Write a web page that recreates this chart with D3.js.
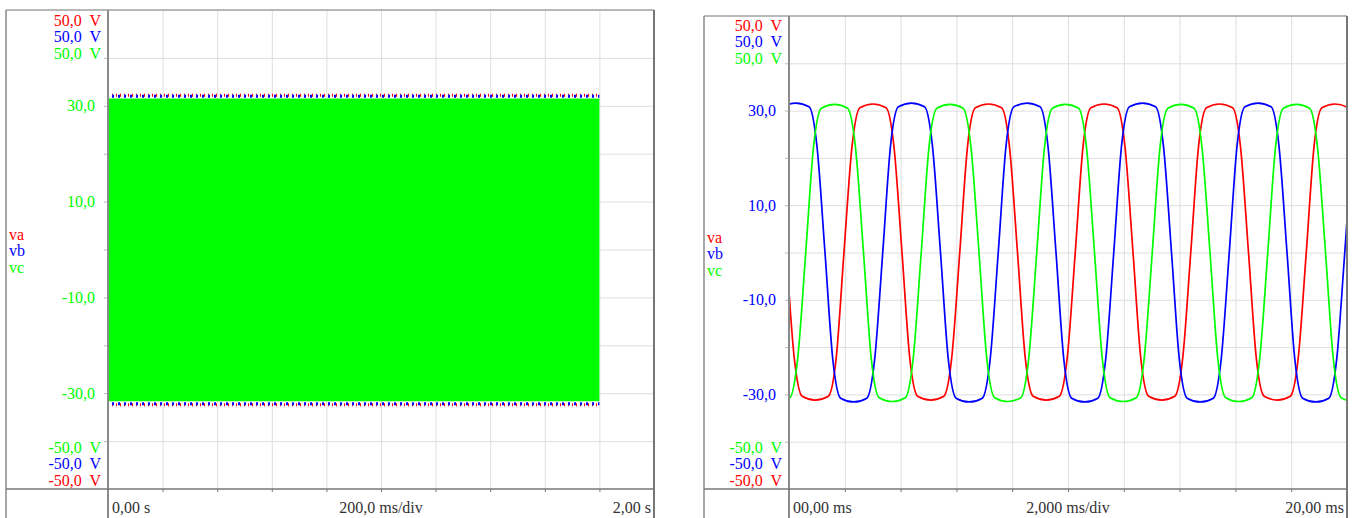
<!DOCTYPE html>
<html>
<head>
<meta charset="utf-8">
<script src="https://cdn.jsdelivr.net/npm/d3@7/dist/d3.min.js"></script>
<style>
  body { margin: 0; background: #fff; }
  svg text { font-family: "Liberation Serif", "DejaVu Serif", "Times New Roman", serif; font-size: 16px; white-space: pre; }
</style>
</head>
<body>
<svg id="scope" width="1352" height="518" font-family="Liberation Serif, DejaVu Serif, serif"></svg>
<script>
// --- data ---
const seriesNames = ['va', 'vb', 'vc'];
const seriesColors = ['#ff0000', '#0000ff', '#00ff00'];

const yDomain = [-50, 50];
const yGridValues = [-40, -30, -20, -10, 0, 10, 20, 30, 40];
const yTickLabels = [30, 10, -10, -30];
const topLimitLabels = ['50,0  V', '50,0  V', '50,0  V'];
const bottomLimitLabels = ['-50,0  V', '-50,0  V', '-50,0  V'];

// overview (left): 0..2 s, envelope of each phase (s, max V, min V)
const overviewXLabels = ['0,00 s', '200,0 ms/div', '2,00 s'];
const overviewTimes = [0, 1.8];
const vaEnvHigh = [32.2, 32.2], vaEnvLow = [-32.4, -32.4];
const vbEnvHigh = [32.0, 32.0], vbEnvLow = [-32.2, -32.2];
const vcEnvHigh = [31.5, 31.5], vcEnvLow = [-31.7, -31.7];

// zoom (right): 0..20 ms, [ms, V]
const detailXLabels = ['00,00 ms', '2,000 ms/div', '20,00 ms'];
const vaPoints = [
  [-1.88, 22.5], [-1.60, 30.6], [-1.13, 31.4], [-0.66, 30.6], [-0.38, 22.5], [-0.10, 0],
  [0.19, -22.4], [0.47, -30.4], [0.94, -31.2], [1.41, -30.4], [1.69, -22.4], [1.97, 0],
  [2.26, 22.5], [2.54, 30.6], [3.01, 31.4], [3.48, 30.6], [3.76, 22.5], [4.05, 0],
  [4.33, -22.4], [4.61, -30.4], [5.08, -31.2], [5.55, -30.4], [5.83, -22.4], [6.12, 0],
  [6.40, 22.5], [6.68, 30.6], [7.15, 31.4], [7.62, 30.6], [7.90, 22.5], [8.19, 0],
  [8.47, -22.4], [8.75, -30.4], [9.22, -31.2], [9.69, -30.4], [9.97, -22.4], [10.26, 0],
  [10.54, 22.5], [10.82, 30.6], [11.29, 31.4], [11.76, 30.6], [12.04, 22.5], [12.33, 0],
  [12.61, -22.4], [12.89, -30.4], [13.36, -31.2], [13.83, -30.4], [14.11, -22.4], [14.40, 0],
  [14.68, 22.5], [14.96, 30.6], [15.43, 31.4], [15.90, 30.6], [16.18, 22.5], [16.47, 0],
  [16.75, -22.4], [17.03, -30.4], [17.50, -31.2], [17.97, -30.4], [18.25, -22.4], [18.54, 0],
  [18.82, 22.5], [19.10, 30.6], [19.57, 31.4], [20.04, 30.6], [20.32, 22.5], [20.61, 0],
  [20.89, -22.4], [21.17, -30.4], [21.64, -31.2]
];
const vbPoints = [
  [-2.57, -22.6], [-2.29, -30.8], [-1.82, -31.6], [-1.35, -30.8], [-1.07, -22.6], [-0.79, 0],
  [-0.50, 22.6], [-0.22, 30.8], [0.25, 31.6], [0.72, 30.8], [1.00, 22.6], [1.29, 0],
  [1.57, -22.6], [1.85, -30.8], [2.32, -31.6], [2.79, -30.8], [3.07, -22.6], [3.36, 0],
  [3.64, 22.6], [3.92, 30.8], [4.39, 31.6], [4.86, 30.8], [5.14, 22.6], [5.43, 0],
  [5.71, -22.6], [5.99, -30.8], [6.46, -31.6], [6.93, -30.8], [7.21, -22.6], [7.50, 0],
  [7.78, 22.6], [8.06, 30.8], [8.53, 31.6], [9.00, 30.8], [9.28, 22.6], [9.57, 0],
  [9.85, -22.6], [10.13, -30.8], [10.60, -31.6], [11.07, -30.8], [11.35, -22.6], [11.64, 0],
  [11.92, 22.6], [12.20, 30.8], [12.67, 31.6], [13.14, 30.8], [13.42, 22.6], [13.71, 0],
  [13.99, -22.6], [14.27, -30.8], [14.74, -31.6], [15.21, -30.8], [15.49, -22.6], [15.78, 0],
  [16.06, 22.6], [16.34, 30.8], [16.81, 31.6], [17.28, 30.8], [17.56, 22.6], [17.85, 0],
  [18.13, -22.6], [18.41, -30.8], [18.88, -31.6], [19.35, -30.8], [19.63, -22.6], [19.92, 0],
  [20.20, 22.6], [20.48, 30.8], [20.95, 31.6]
];
const vcPoints = [
  [-3.26, 22.4], [-2.98, 30.5], [-2.51, 31.3], [-2.04, 30.5], [-1.76, 22.4], [-1.48, 0],
  [-1.19, -22.5], [-0.91, -30.7], [-0.44, -31.5], [0.03, -30.7], [0.31, -22.5], [0.60, 0],
  [0.88, 22.4], [1.16, 30.5], [1.63, 31.3], [2.10, 30.5], [2.38, 22.4], [2.67, 0],
  [2.95, -22.5], [3.23, -30.7], [3.70, -31.5], [4.17, -30.7], [4.45, -22.5], [4.74, 0],
  [5.02, 22.4], [5.30, 30.5], [5.77, 31.3], [6.24, 30.5], [6.52, 22.4], [6.81, 0],
  [7.09, -22.5], [7.37, -30.7], [7.84, -31.5], [8.31, -30.7], [8.59, -22.5], [8.88, 0],
  [9.16, 22.4], [9.44, 30.5], [9.91, 31.3], [10.38, 30.5], [10.66, 22.4], [10.95, 0],
  [11.23, -22.5], [11.51, -30.7], [11.98, -31.5], [12.45, -30.7], [12.73, -22.5], [13.02, 0],
  [13.30, 22.4], [13.58, 30.5], [14.05, 31.3], [14.52, 30.5], [14.80, 22.4], [15.09, 0],
  [15.37, -22.5], [15.65, -30.7], [16.12, -31.5], [16.59, -30.7], [16.87, -22.5], [17.16, 0],
  [17.44, 22.4], [17.72, 30.5], [18.19, 31.3], [18.66, 30.5], [18.94, 22.4], [19.23, 0],
  [19.51, -22.5], [19.79, -30.7], [20.26, -31.5], [20.73, -30.7], [21.01, -22.5]
];

// --- layout ---
const svg = d3.select('#scope');
const axisBottomY = 489;
const serif = '"Liberation Serif", "DejaVu Serif", "Times New Roman", serif';
const fmt = d3.formatLocale({decimal: ',', thousands: '.', grouping: [3], currency: ['', ''], minus: '-'}).format('.1f');

function label(g, x, y, txt, color, anchor) {
  return g.append('text')
    .attr('x', x).attr('y', y)
    .attr('text-anchor', anchor || 'start')
    .attr('fill', color)
    .style('font-family', serif)
    .style('font-size', '16px')
    .text(txt);
}

function drawPanel(p) {
  const x = d3.scaleLinear().domain(p.xDomain).range([p.left, p.right]);
  const y = d3.scaleLinear().domain(yDomain).range([axisBottomY, p.top]);
  const g = svg.append('g');

  // grid
  g.append('g')
    .attr('transform', `translate(${p.left},0)`)
    .call(d3.axisLeft(y).tickValues(yGridValues).tickSize(-(p.right - p.left)).tickFormat(''))
    .call(a => a.select('.domain').remove())
    .call(a => a.selectAll('line').attr('stroke', '#dedede'));
  g.append('g')
    .attr('transform', `translate(0,${p.top})`)
    .call(d3.axisBottom(x).ticks(10).tickSize(axisBottomY - p.top).tickFormat(''))
    .call(a => a.select('.domain').remove())
    .call(a => a.selectAll('line').attr('stroke', '#dedede'));

  // y ticks + labels
  g.append('g')
    .attr('transform', `translate(${p.left},0)`)
    .call(d3.axisLeft(y).tickValues(yGridValues).tickSize(4).tickPadding(9)
      .tickFormat(d => yTickLabels.includes(d) ? fmt(d) : ''))
    .call(a => a.select('.domain').remove())
    .call(a => a.selectAll('line').attr('stroke', '#bbb'))
    .call(a => a.selectAll('text')
      .attr('fill', p.tickColor)
      .style('font-family', serif)
      .style('font-size', '16px'));

  // x ticks
  g.append('g')
    .attr('transform', `translate(0,${axisBottomY})`)
    .call(d3.axisBottom(x).ticks(10).tickSize(3).tickFormat(''))
    .call(a => a.select('.domain').remove())
    .call(a => a.selectAll('line').attr('stroke', '#777'));

  // signals
  const clipId = 'clip' + p.left;
  svg.append('clipPath').attr('id', clipId)
    .append('rect')
    .attr('x', p.left).attr('y', p.top)
    .attr('width', p.right - p.left).attr('height', axisBottomY - p.top);
  const plot = g.append('g').attr('clip-path', `url(#${clipId})`);
  p.drawSignals(plot, x, y);

  // frames
  const frame = g.append('g').attr('fill', 'none');
  frame.append('line').attr('x1', p.outerLeft).attr('x2', p.right)
    .attr('y1', p.top).attr('y2', p.top).attr('stroke', '#a0a0a0').attr('stroke-width', 1.5);
  frame.append('line').attr('x1', p.outerLeft).attr('x2', p.outerLeft)
    .attr('y1', p.top).attr('y2', 518).attr('stroke', '#8a8a8a').attr('stroke-width', 1.5);
  frame.append('line').attr('x1', p.left).attr('x2', p.left)
    .attr('y1', p.top).attr('y2', 518).attr('stroke', '#8a8a8a').attr('stroke-width', 2);
  frame.append('line').attr('x1', p.right).attr('x2', p.right)
    .attr('y1', p.top).attr('y2', 518).attr('stroke', '#777').attr('stroke-width', 2);
  frame.append('line').attr('x1', p.outerLeft).attr('x2', p.right)
    .attr('y1', axisBottomY).attr('y2', axisBottomY).attr('stroke', '#777').attr('stroke-width', 1.5);

  // limit labels
  topLimitLabels.forEach((d, i) => label(g, p.left - 7, p.topLabelY + i * 16.5, d, seriesColors[i], 'end'));
  const bottomOrder = [2, 1, 0];
  bottomLimitLabels.forEach((d, i) => label(g, p.left - 7, 452.5 + i * 16.7, d, seriesColors[bottomOrder[i]], 'end'));

  // legend names
  seriesNames.forEach((d, i) => label(g, p.outerLeft + 3, p.nameY + i * 16.3, d, seriesColors[i]));

  // x labels
  label(g, p.left + 4, 512.5, p.xLabels[0], '#333');
  label(g, (p.left + p.right) / 2, 512.5, p.xLabels[1], '#333', 'middle');
  label(g, p.right - 3, 512.5, p.xLabels[2], '#333', 'end');
}

// left: overview
drawPanel({
  outerLeft: 6, left: 108, right: 654, top: 10,
  xDomain: [0, 2], xLabels: overviewXLabels, tickColor: '#00ff00',
  topLabelY: 25.5, nameY: 240,
  drawSignals: (plot, x, y) => {
    const rowsOf = (hi, lo) => overviewTimes.map((t, k) => ({t: t, hi: hi[k], lo: lo[k]}));
    const green = rowsOf(vcEnvHigh, vcEnvLow);
    plot.append('path').datum(green)
      .attr('fill', seriesColors[2])
      .attr('d', d3.area().x(d => x(d.t)).y0(d => y(d.lo)).y1(d => y(d.hi)));
    // dense peaks of va / vb just above / below the vc block
    [[vaEnvHigh, vaEnvLow, '1 3', 0], [vbEnvHigh, vbEnvLow, '2 4', 2]].forEach((e, i) => {
      const rows = rowsOf(e[0], e[1]);
      ['hi', 'lo'].forEach(k => {
        plot.append('path').datum(rows)
          .attr('fill', 'none')
          .attr('stroke', seriesColors[i])
          .attr('stroke-width', 3)
          .attr('stroke-dasharray', e[2])
          .attr('stroke-dashoffset', e[3])
          .attr('d', d3.line().x(d => x(d.t)).y(d => y(d[k])));
      });
    });
  }
});

// right: zoom
drawPanel({
  outerLeft: 704, left: 789, right: 1347, top: 16,
  xDomain: [0, 20], xLabels: detailXLabels, tickColor: '#0000ff',
  topLabelY: 30.7, nameY: 243,
  drawSignals: (plot, x, y) => {
    const line = d3.line().x(d => x(d[0])).y(d => y(d[1])).curve(d3.curveMonotoneX);
    [vaPoints, vbPoints, vcPoints].forEach((pts, i) => {
      plot.append('path')
        .datum(pts)
        .attr('fill', 'none')
        .attr('stroke', seriesColors[i])
        .attr('stroke-width', 1.7)
        .attr('d', line);
    });
  }
});
</script>
</body>
</html>
